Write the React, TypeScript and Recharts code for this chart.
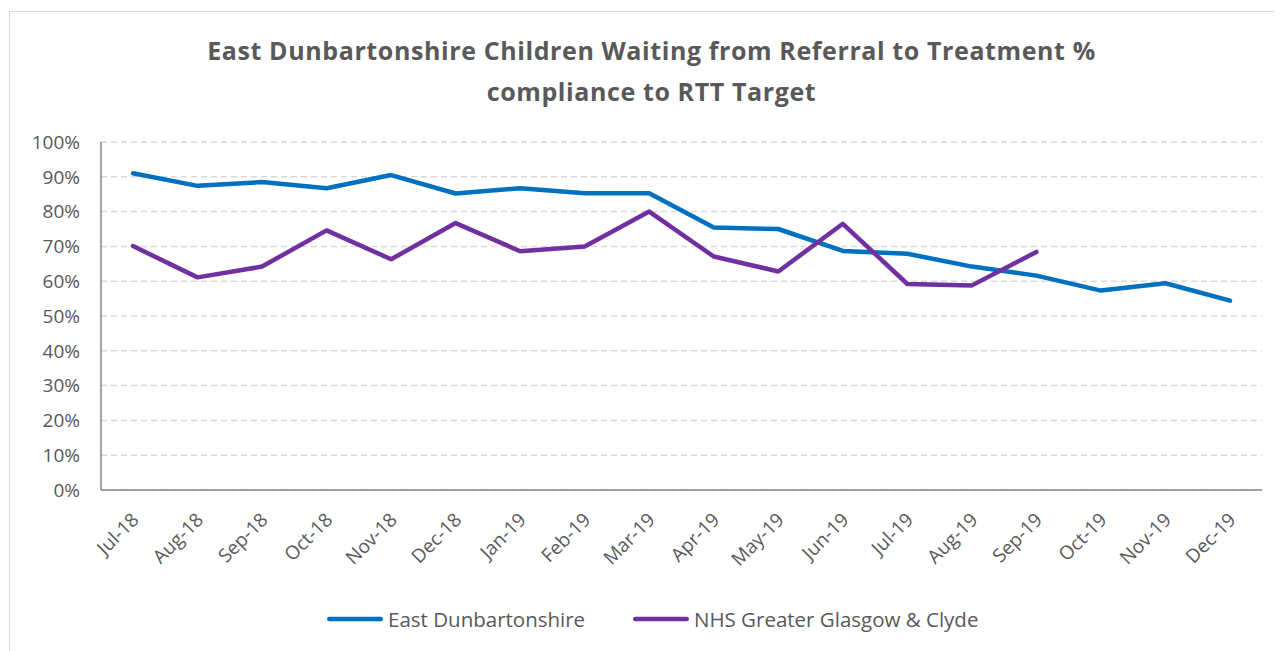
import { LineChart, Line, XAxis, YAxis, CartesianGrid, Legend } from "recharts"

const months = [
  "Jul-18", "Aug-18", "Sep-18", "Oct-18", "Nov-18", "Dec-18",
  "Jan-19", "Feb-19", "Mar-19", "Apr-19", "May-19", "Jun-19",
  "Jul-19", "Aug-19", "Sep-19", "Oct-19", "Nov-19", "Dec-19",
]

const eastDunbartonshire = [
  91.0, 87.4, 88.5, 86.7, 90.5, 85.2, 86.7, 85.3, 85.3,
  75.4, 75.0, 68.7, 67.9, 64.2, 61.6, 57.3, 59.4, 54.4,
]

const nhsGgc = [
  70.1, 61.1, 64.2, 74.6, 66.3, 76.7, 68.6, 70.0, 80.0,
  67.1, 62.8, 76.5, 59.2, 58.8, 68.4,
]

const yTicks = [0, 10, 20, 30, 40, 50, 60, 70, 80, 90, 100]

const data = months.map((m, i) => ({
  month: m,
  ed: eastDunbartonshire[i],
  ggc: i < nhsGgc.length ? nhsGgc[i] : null,
}))

const FONT = "'Open Sans', sans-serif"
const TEXT = "#595959"

const XTick = ({ x, y, payload }: any) => (
  <g transform={`translate(${x + 7},${y + 31})`}>
    <text x={0} y={0} textAnchor="end" transform="rotate(-45)" fill={TEXT} fontSize={19} fontFamily={FONT}>
      {payload.value}
    </text>
  </g>
)

// legend items sit at fixed spots, like Excel lays them out
const LegendContent = ({ payload }: any) => (
  <div style={{ display: "flex", height: 26, lineHeight: "26px", fontFamily: FONT, fontSize: 20.5, color: TEXT }}>
    {payload.map((p: any, i: number) => (
      <div key={p.value} style={{ display: "flex", alignItems: "center", width: i ? "auto" : 306, whiteSpace: "nowrap" }}>
        <svg width={60} height={8} style={{ display: "block" }}>
          <line x1={4.25} y1={4} x2={55.75} y2={4} stroke={p.color} strokeWidth={4.5} strokeLinecap="round" />
        </svg>
        <span style={{ marginLeft: 3 }}>{p.value}</span>
      </div>
    ))}
  </div>
)

export default function App() {
  return (
    <div style={{ position: "relative", width: 1274, height: 643, background: "#fff" }}>
      <div
        style={{
          position: "absolute",
          left: 1,
          top: 3,
          right: -20,
          bottom: -20,
          borderTop: "1.5px solid #d9d9d9",
          borderLeft: "1.5px solid #d9d9d9",
        }}
      />
      <div
        style={{
          position: "absolute",
          left: 0,
          top: 22,
          width: 1287,
          textAlign: "center",
          fontFamily: FONT,
          fontWeight: 700,
          fontSize: 25,
          letterSpacing: 0.6,
          lineHeight: "41px",
          color: TEXT,
        }}
      >
        East Dunbartonshire Children Waiting from Referral to Treatment %
        <br />
        compliance to RTT Target
      </div>
      <div style={{ position: "absolute", left: 0, top: 0 }}>
        <LineChart width={1274} height={643} data={data} margin={{ top: 134, right: 20, left: 0, bottom: 55 }}>
          <CartesianGrid vertical={false} stroke="#d9d9d9" strokeWidth={1.5} strokeDasharray="6 4" />
          <XAxis
            dataKey="month"
            interval={0}
            padding={{ left: 32, right: 32 }}
            tickLine={false}
            tickSize={0}
            tickMargin={0}
            axisLine={{ stroke: "#868686", strokeWidth: 1.5 }}
            tick={<XTick />}
            height={80}
          />
          <YAxis
            domain={[0, 100]}
            ticks={yTicks}
            tickFormatter={(v: number) => `${v}%`}
            tickLine={false}
            tickSize={0}
            tickMargin={21}
            axisLine={{ stroke: "#868686", strokeWidth: 1.5 }}
            tick={{ fill: TEXT, fontSize: 19, fontFamily: FONT }}
            width={93}
          />
          <Legend
            content={<LegendContent />}
            wrapperStyle={{ position: "absolute", left: 317, top: 598, width: "auto" }}
          />
          <Line
            type="linear"
            dataKey="ed"
            name="East Dunbartonshire"
            stroke="#0070C0"
            strokeWidth={4.5}
            strokeLinecap="round"
            strokeLinejoin="round"
            dot={false}
            isAnimationActive={false}
          />
          <Line
            type="linear"
            dataKey="ggc"
            name="NHS Greater Glasgow & Clyde"
            stroke="#7030A0"
            strokeWidth={4.5}
            strokeLinecap="round"
            strokeLinejoin="round"
            dot={false}
            isAnimationActive={false}
          />
        </LineChart>
      </div>
    </div>
  )
}
